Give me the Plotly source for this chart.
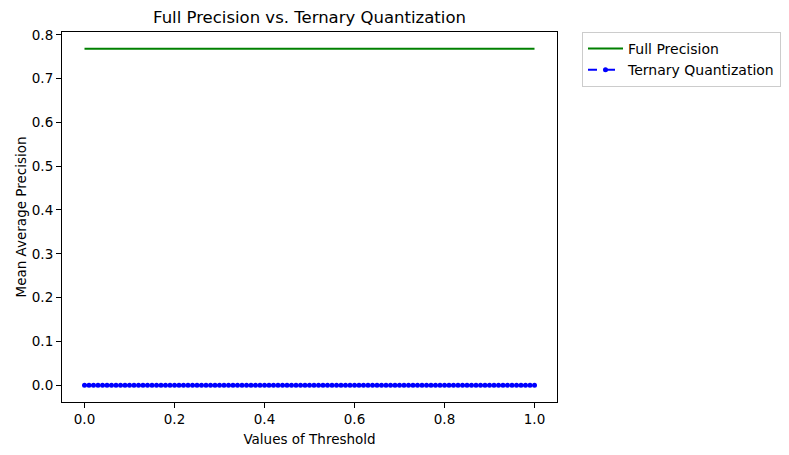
import plotly.graph_objects as go

thresholds = [
    0.00, 0.01, 0.02, 0.03, 0.04, 0.05, 0.06, 0.07, 0.08, 0.09,
    0.10, 0.11, 0.12, 0.13, 0.14, 0.15, 0.16, 0.17, 0.18, 0.19,
    0.20, 0.21, 0.22, 0.23, 0.24, 0.25, 0.26, 0.27, 0.28, 0.29,
    0.30, 0.31, 0.32, 0.33, 0.34, 0.35, 0.36, 0.37, 0.38, 0.39,
    0.40, 0.41, 0.42, 0.43, 0.44, 0.45, 0.46, 0.47, 0.48, 0.49,
    0.50, 0.51, 0.52, 0.53, 0.54, 0.55, 0.56, 0.57, 0.58, 0.59,
    0.60, 0.61, 0.62, 0.63, 0.64, 0.65, 0.66, 0.67, 0.68, 0.69,
    0.70, 0.71, 0.72, 0.73, 0.74, 0.75, 0.76, 0.77, 0.78, 0.79,
    0.80, 0.81, 0.82, 0.83, 0.84, 0.85, 0.86, 0.87, 0.88, 0.89,
    0.90, 0.91, 0.92, 0.93, 0.94, 0.95, 0.96, 0.97, 0.98, 0.99,
    1.00,
]

# full precision mAP is a flat line across the threshold range
full_precision_x = [0.0, 1.0]
full_precision_map = [0.768, 0.768]

# ternary quantization mAP came out as zero for every threshold
ternary_map = [0.0] * len(thresholds)

x_ticks = [0.0, 0.2, 0.4, 0.6, 0.8, 1.0]
y_ticks = [0.0, 0.1, 0.2, 0.3, 0.4, 0.5, 0.6, 0.7, 0.8]

font = 'DejaVu Sans'

fig = go.Figure()

fig.add_trace(go.Scatter(
    x=full_precision_x, y=full_precision_map,
    mode='lines', name='Full Precision',
    line=dict(color='#008000', width=2)
))

fig.add_trace(go.Scatter(
    x=thresholds, y=ternary_map,
    mode='lines+markers', name='Ternary Quantization',
    line=dict(color='#0000ff', width=2, dash='dash'),
    marker=dict(color='#0000ff', size=5)
))

axis_style = dict(
    showline=True, linecolor='black', linewidth=1.1, mirror=True,
    ticks='outside', ticklen=5, tickwidth=1.1, tickcolor='black',
    showgrid=False, zeroline=False,
    tickfont=dict(family=font, size=13.5, color='black'),
)

# the page puts the figure 8px in from the top-left corner
fig.update_layout(
    width=789, height=455,
    margin=dict(l=54, r=240, t=24, b=61),
    plot_bgcolor='white', paper_bgcolor='white',
    title=dict(
        text='Full Precision vs. Ternary Quantization',
        x=301.5 / 789, xanchor='center',
        y=1 - 9 / 455, yanchor='middle',
        font=dict(family=font, size=16.5, color='black')
    ),
    xaxis=dict(
        axis_style, range=[-0.05, 1.05],
        tickvals=x_ticks, ticktext=['%.1f' % v for v in x_ticks],
        title=dict(text='Values of Threshold', standoff=8,
                   font=dict(family=font, size=13.5, color='black'))
    ),
    yaxis=dict(
        axis_style, range=[-0.0384, 0.8064],
        tickvals=y_ticks, ticktext=['%.1f' % v for v in y_ticks],
        title=dict(text='Mean Average Precision', standoff=2,
                   font=dict(family=font, size=13.5, color='black'))
    ),
    legend=dict(
        x=1.0505, xanchor='left', y=1.0, yanchor='top',
        bordercolor='#cccccc', borderwidth=1, bgcolor='white',
        font=dict(family=font, size=14, color='black'),
        itemwidth=35, tracegroupgap=0
    ),
    showlegend=True
)

fig.write_html('out.html')
